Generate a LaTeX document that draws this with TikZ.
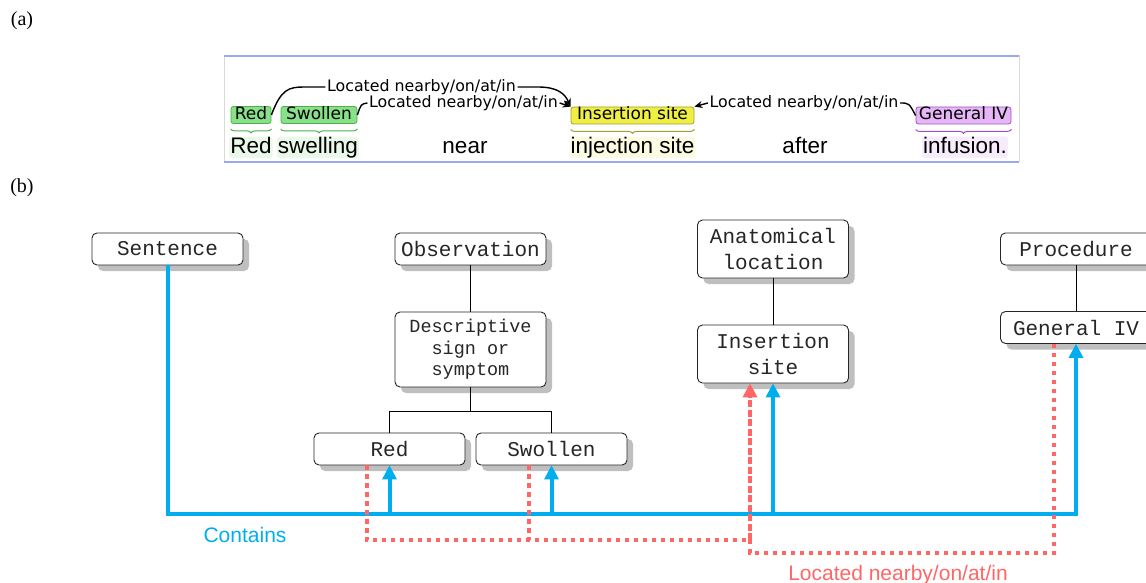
\documentclass[tikz,border=0pt]{standalone}
\usepackage{fontspec}
\setmainfont{Liberation Serif}
\setsansfont{Liberation Sans}
\setmonofont{Liberation Mono}
\newfontfamily\labelfont{DejaVu Sans}
\usepackage{xcolor}
\usetikzlibrary{arrows.meta, shadows, decorations.pathreplacing, calc}

\definecolor{containsblue}{HTML}{00AEEF}
\definecolor{locatedred}{HTML}{FF6666}
\definecolor{framebl}{HTML}{99AAF0}
\definecolor{tagggreen}{HTML}{88E088}
\definecolor{taggreenb}{HTML}{4FAF4F}
\definecolor{tagyellow}{HTML}{EEEE44}
\definecolor{tagyellowb}{HTML}{A0A030}
\definecolor{tagpurple}{HTML}{E6B6F6}
\definecolor{tagpurpleb}{HTML}{A050C0}
\definecolor{hlgreen}{HTML}{EAF8EA}
\definecolor{hlyellow}{HTML}{FBFBE2}
\definecolor{hlpurple}{HTML}{F7ECFB}

\tikzset{
  panel/.style={font=\fontsize{20}{24}\selectfont},
  word/.style={font=\sffamily\fontsize{22.5}{26}\selectfont, rounded corners=3pt,
    inner xsep=1pt, inner ysep=0pt, text height=17pt, text depth=4.5pt},
  tag/.style={draw, line width=0.8pt, rounded corners=2.5pt, inner xsep=2pt, inner ysep=0.5pt,
    font=\labelfont\fontsize{17}{20}\selectfont, text height=12.5pt, text depth=3.5pt},
  reltext/.style={font=\labelfont\fontsize{15.8}{18}\selectfont, inner xsep=1.5pt, inner ysep=0pt},
  rel/.style={line width=1.4pt},
  concept/.style={draw=black!85, line width=0.9pt, rounded corners=5pt, fill=white,
    minimum width=151pt, minimum height=32pt, align=center, inner sep=2pt, text=black!85,
    font=\ttfamily\fontsize{21}{26}\selectfont,
    drop shadow={shadow xshift=6pt, shadow yshift=-6pt, fill=black!25, opacity=1}},
  isa/.style={line width=0.8pt},
  contains/.style={containsblue, line width=4pt},
  located/.style={locatedred, line width=4pt, dash pattern=on 4.5pt off 4.5pt},
  tip/.style={-{Triangle[width=15pt,length=14pt,line width=0pt]}}
}

\begin{document}
\begin{tikzpicture}[x=1pt, y=-1pt]
\useasboundingbox (0,0) rectangle (1146,583);

% panel labels
\node[panel] (pa) at (22,21) {(a)};
\node[panel] (pb) at (22,188) {(b)};

% (a) annotated sentence
\draw[black!15, line width=1pt] (224,56) rectangle (1019,162);
\draw[framebl, line width=2pt] (224,56) -- (1019,56);
\draw[framebl, line width=2pt] (224,162) -- (1019,162);

\node[word, fill=hlgreen, minimum width=40pt] (wred) at (251,147.5) {Red};
\node[word, fill=hlgreen, minimum width=78pt] (wswell) at (318,147.5) {swelling};
\node[word] (wnear) at (465,147.5) {near};
\node[word, fill=hlyellow, minimum width=123pt] (winj) at (632.5,147.5) {injection site};
\node[word] (wafter) at (805,147.5) {after};
\node[word, fill=hlpurple] (winf) at (965,147.5) {infusion.};

\node[tag, fill=tagggreen, draw=taggreenb, minimum width=40pt] (lred) at (251,115) {Red};
\node[tag, fill=tagggreen, draw=taggreenb, minimum width=76pt] (lswol) at (319,115) {Swollen};
\node[tag, fill=tagyellow, draw=tagyellowb, minimum width=123pt] (lins) at (632.5,115.5) {Insertion site};
\node[tag, fill=tagpurple, draw=tagpurpleb, minimum width=95pt] (lgiv) at (963.5,115.5) {General IV};

\foreach \t/\c in {lred/taggreenb, lswol/taggreenb, lins/tagyellowb, lgiv/tagpurpleb}
  \draw[\c, line width=1pt, decorate, decoration={brace, mirror, amplitude=4pt}]
    ([yshift=-5pt]\t.south west) -- ([yshift=-5pt]\t.south east);

% relations
\node[reltext] (rel1) at (421.5,87) {Located nearby/on/at/in};
\node[reltext] (rel2) at (463.5,103) {Located nearby/on/at/in};
\node[reltext] (rel3) at (804,103) {Located nearby/on/at/in};

\draw[rel] (lred.east) .. controls (281,89) and (289,87) .. (304,87) -- (rel1.west);
\draw[rel, -{Stealth[length=8pt,width=7pt]}] (rel1.east) -- (538,87)
  .. controls (558,87) and (565,94) .. (lins.north west);
\draw[rel] (lswol.east) .. controls (361,104) .. (rel2.west);
\draw[rel, -{Stealth[length=8pt,width=7pt]}] (rel2.east) -- (lins.north west);
\draw[rel, -{Stealth[length=8pt,width=7pt]}] (rel3.west) -- (lins.north east);
\draw[rel] (rel3.east) .. controls (909,103) .. (lgiv.west);

% (b) concept hierarchy
\node[concept] (sent) at (167.5,249) {Sentence};
\node[concept] (obs) at (470.5,249) {Observation};
\node[concept, minimum height=75pt, font=\ttfamily\fontsize{18.5}{21.5}\selectfont]
  (desc) at (470.5,349.5) {Descriptive\\sign or\\symptom};
\node[concept] (red) at (389.5,449) {Red};
\node[concept] (swol) at (551.5,449) {Swollen};
\node[concept, minimum height=58pt] (anat) at (773,249) {Anatomical\\location};
\node[concept, minimum height=58pt] (ins) at (773,354) {Insertion\\site};
\node[concept] (proc) at (1076,249) {Procedure};
\node[concept] (giv) at (1076,327.5) {General IV};

\draw[isa] (obs) -- (desc);
\draw[isa] (desc.south) -- ++(0,23.5) -| (red.north);
\draw[isa] (desc.south) -- ++(0,23.5) -| (swol.north);
\draw[isa] (anat) -- (ins);
\draw[isa] (proc) -- (giv);

% contains
\coordinate (bus) at (0,514);
\draw[contains, tip] (sent.south) |- (bus -| giv.south) -- (giv.south);
\draw[contains, tip] (bus -| red.south) -- (red.south);
\draw[contains, tip] (bus -| swol.south) -- (swol.south);
\draw[contains, tip] (bus -| ins.south) -- (ins.south);
\node[font=\sffamily\fontsize{21}{25}\selectfont, text=containsblue] (lcont) at (245,535) {Contains};

% located nearby/on/at/in
\coordinate (lowa) at (0,540);
\coordinate (lowb) at (0,553);
\coordinate (jct) at ([xshift=-23pt]ins.south |- lowa);
\draw[located] ([xshift=-23pt]red.south) |- (jct);
\draw[located] ([xshift=-23pt]swol.south) -- ([xshift=-23pt]swol.south |- lowa);
\draw[located] ([xshift=-22pt]giv.south) |- ([xshift=-23pt]ins.south |- lowb) -- (jct);
\draw[located, dash pattern=on 7pt off 2.5pt, tip] (jct) -- ([xshift=-23pt]ins.south);
\node[font=\sffamily\fontsize{21}{25}\selectfont, text=locatedred] (lloc) at (898,575) {Located nearby/on/at/in};
\end{tikzpicture}
\end{document}
